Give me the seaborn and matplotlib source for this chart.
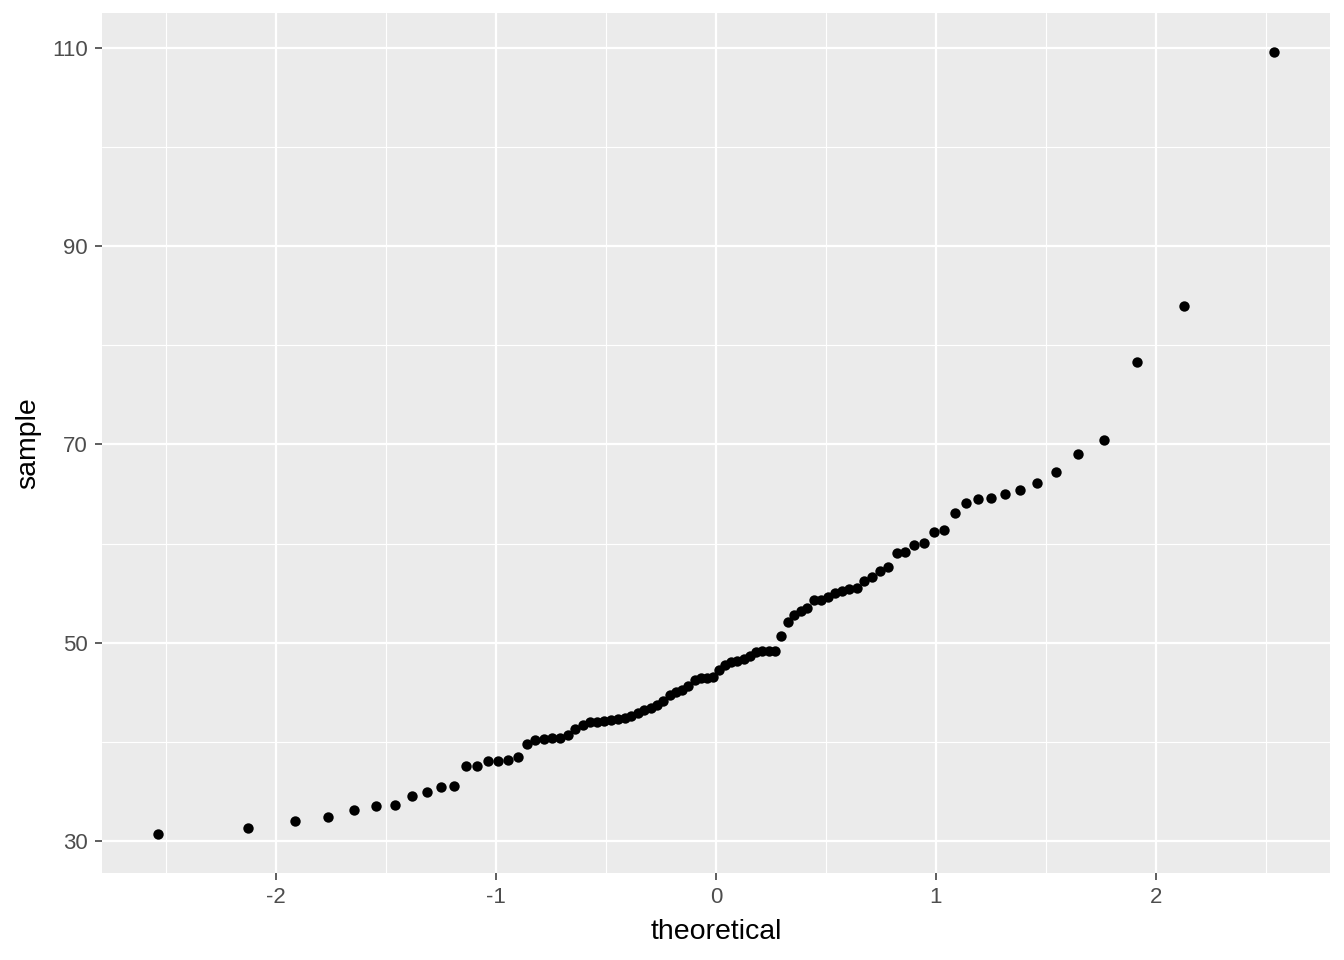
"""
Normal QQ plot of a sample, drawn in a ggplot-like grey theme
"""

from statistics import NormalDist

import matplotlib
matplotlib.use('Agg')
import matplotlib.pyplot as plt
import numpy as np
import pandas as pd
import seaborn as sns

# sorted sample values
sample = [30.7, 31.3, 32.0, 32.4, 33.1, 33.5, 33.6, 34.5, 34.9, 35.4,
          35.5, 37.6, 37.6, 38.1, 38.1, 38.2, 38.5, 39.8, 40.2, 40.3,
          40.4, 40.4, 40.7, 41.3, 41.7, 42.0, 42.0, 42.1, 42.2, 42.3,
          42.4, 42.6, 42.9, 43.2, 43.4, 43.7, 44.1, 44.7, 45.0, 45.2,
          45.6, 46.2, 46.4, 46.4, 46.5, 47.2, 47.7, 48.0, 48.2, 48.4,
          48.7, 49.1, 49.2, 49.2, 49.2, 50.7, 52.1, 52.8, 53.2, 53.5,
          54.3, 54.3, 54.6, 55.0, 55.2, 55.4, 55.5, 56.2, 56.6, 57.2,
          57.6, 59.0, 59.1, 59.9, 60.1, 61.2, 61.4, 63.1, 64.1, 64.5,
          64.6, 65.0, 65.4, 66.1, 67.2, 69.0, 70.5, 78.3, 84.0, 109.6]

x_ticks = [-2, -1, 0, 1, 2]
y_ticks = [30, 50, 70, 90, 110]

# stat_qq: theoretical normal quantiles at ppoints(n)
n = len(sample)
theoretical = [NormalDist().inv_cdf((i - 0.5) / n) for i in range(1, n + 1)]
df = pd.DataFrame({'theoretical': theoretical, 'sample': sample})

sns.set_theme(style='darkgrid', rc={
    'axes.facecolor': '#EBEBEB',
    'grid.color': 'white',
    'axes.edgecolor': 'none',
})
plt.rcParams['font.family'] = ['Liberation Sans', 'DejaVu Sans']
plt.rcParams['axes.unicode_minus'] = False

fig = plt.figure(figsize=(13.44, 9.6), dpi=100, facecolor='white')
ax = fig.add_axes([102 / 1344, 1 - 873 / 960, 1228 / 1344, 860 / 960])

sns.scatterplot(data=df, x='theoretical', y='sample', ax=ax,
                color='black', s=56, linewidth=0, zorder=3)

# ggplot default 5% expansion
xr = max(theoretical) - min(theoretical)
yr = max(sample) - min(sample)
ax.set_xlim(min(theoretical) - 0.05 * xr, max(theoretical) + 0.05 * xr)
ax.set_ylim(min(sample) - 0.05 * yr, max(sample) + 0.05 * yr)

ax.set_xticks(x_ticks)
ax.set_yticks(y_ticks)
ax.set_xticks([-2.5, -1.5, -0.5, 0.5, 1.5, 2.5], minor=True)
ax.set_yticks([40, 60, 80, 100], minor=True)
ax.grid(which='major', color='white', linewidth=1.6)
ax.grid(which='minor', color='white', linewidth=0.8)
ax.set_axisbelow(True)

ax.tick_params(axis='both', which='major', length=5, width=1.1, color='#333333',
               labelcolor='#4D4D4D', labelsize=16, pad=5, bottom=True, left=True)
ax.tick_params(axis='both', which='minor', length=0)
for s in ax.spines.values():
    s.set_visible(False)

ax.set_xlabel('theoretical', fontsize=20.5, color='black', labelpad=8)
ax.set_ylabel('sample', fontsize=20.5, color='black', labelpad=8)

fig.savefig('out.png', dpi=100, facecolor='white')
